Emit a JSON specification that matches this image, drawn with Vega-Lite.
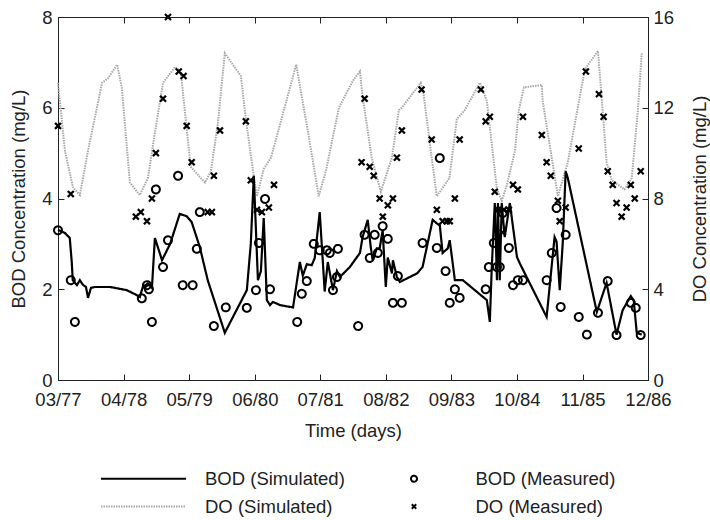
{
  "$schema": "https://vega.github.io/schema/vega-lite/v6.json",
  "width": 590,
  "height": 363,
  "autosize": {"type": "none"},
  "padding": {"left": 58, "top": 17, "right": 62, "bottom": 140},
  "config": {
    "font": "Liberation Sans",
    "view": {"stroke": "#222", "strokeWidth": 1},
    "axis": {
      "labelFont": "Liberation Sans", "labelFontSize": 18.5, "labelColor": "#222", "labelOverlap": false, "labelFlush": false,
      "titleFont": "Liberation Sans", "titleFontSize": 18.5, "titleFontWeight": "normal", "titleColor": "#222",
      "domainColor": "#222", "tickColor": "#222", "tickSize": -6, "grid": false
    },
    "legend": {
      "orient": "none", "legendX": 74.5, "legendY": 450.5, "columns": 2, "direction": "horizontal", "padding": 0,
      "symbolSize": 400, "symbolStrokeWidth": 2, "symbolFillColor": "transparent", "labelFont": "Liberation Sans", "labelFontSize": 18.5,
      "labelColor": "#222", "labelOffset": 50.5, "columnPadding": 57.5, "rowPadding": 7
    }
  },
  "datasets": {
    "bod_sim": [
      {"date":"1977-03-01","value":3.31},{"date":"1977-04-12","value":3.24},{"date":"1977-05-11","value":3.13},{"date":"1977-05-23","value":2.6},{"date":"1977-05-29","value":2.2},{"date":"1977-06-23","value":2.09},{"date":"1977-07-11","value":2.2},{"date":"1977-07-29","value":2.1},{"date":"1977-08-17","value":2.05},{"date":"1977-08-29","value":1.81},{"date":"1977-09-16","value":2.03},{"date":"1977-10-10","value":2.05},{"date":"1978-01-09","value":2.05},{"date":"1978-04-20","value":1.98},{"date":"1978-06-20","value":1.87},{"date":"1978-07-08","value":1.83},{"date":"1978-07-26","value":2.05},{"date":"1978-08-26","value":2.13},{"date":"1978-09-19","value":2.03},{"date":"1978-10-07","value":3.13},{"date":"1978-11-19","value":2.64},{"date":"1979-01-07","value":3.0},{"date":"1979-03-06","value":3.66},{"date":"1979-04-17","value":3.61},{"date":"1979-05-17","value":3.48},{"date":"1979-07-05","value":2.93},{"date":"1979-08-22","value":2.2},{"date":"1979-12-03","value":1.04},{"date":"1980-04-14","value":1.98},{"date":"1980-05-08","value":3.0},{"date":"1980-05-26","value":4.5},{"date":"1980-06-20","value":2.2},{"date":"1980-07-08","value":2.4},{"date":"1980-07-25","value":3.57},{"date":"1980-08-13","value":1.76},{"date":"1980-09-01","value":1.65},{"date":"1980-09-19","value":1.72},{"date":"1980-11-01","value":1.65},{"date":"1981-01-01","value":1.61},{"date":"1981-01-18","value":1.6},{"date":"1981-02-28","value":2.6},{"date":"1981-03-18","value":2.3},{"date":"1981-04-11","value":2.55},{"date":"1981-05-11","value":2.53},{"date":"1981-05-29","value":2.69},{"date":"1981-06-28","value":3.7},{"date":"1981-07-17","value":2.6},{"date":"1981-07-28","value":1.95},{"date":"1981-08-16","value":2.6},{"date":"1981-09-16","value":1.98},{"date":"1981-10-10","value":2.4},{"date":"1981-10-28","value":2.27},{"date":"1981-12-27","value":2.49},{"date":"1982-02-26","value":2.8},{"date":"1982-03-14","value":3.15},{"date":"1982-04-14","value":3.53},{"date":"1982-05-02","value":2.93},{"date":"1982-05-14","value":2.64},{"date":"1982-06-08","value":2.9},{"date":"1982-06-25","value":2.9},{"date":"1982-07-13","value":3.3},{"date":"1982-08-01","value":2.05},{"date":"1982-08-13","value":2.7},{"date":"1982-09-07","value":2.35},{"date":"1982-09-13","value":2.64},{"date":"1982-10-07","value":2.27},{"date":"1982-10-25","value":2.16},{"date":"1983-02-06","value":2.35},{"date":"1983-03-11","value":2.49},{"date":"1983-05-11","value":3.53},{"date":"1983-06-05","value":3.45},{"date":"1983-06-23","value":3.41},{"date":"1983-07-10","value":2.8},{"date":"1983-08-10","value":2.9},{"date":"1983-08-22","value":3.08},{"date":"1983-09-22","value":2.2},{"date":"1983-11-09","value":2.2},{"date":"1984-04-02","value":1.76},{"date":"1984-04-20","value":1.28},{"date":"1984-05-02","value":2.5},{"date":"1984-05-20","value":3.9},{"date":"1984-06-02","value":2.2},{"date":"1984-06-08","value":3.9},{"date":"1984-06-19","value":2.2},{"date":"1984-07-01","value":3.9},{"date":"1984-07-19","value":3.15},{"date":"1984-08-19","value":3.9},{"date":"1984-10-01","value":2.71},{"date":"1984-10-18","value":2.57},{"date":"1985-03-29","value":1.39},{"date":"1985-05-16","value":3.15},{"date":"1985-05-28","value":3.05},{"date":"1985-06-16","value":1.98},{"date":"1985-07-04","value":3.0},{"date":"1985-07-22","value":4.6},{"date":"1985-08-04","value":4.45},{"date":"1986-01-26","value":1.5},{"date":"1986-03-26","value":2.14},{"date":"1986-05-25","value":1.0},{"date":"1986-07-01","value":1.54},{"date":"1986-08-19","value":1.85},{"date":"1986-09-06","value":1.75},{"date":"1986-09-24","value":1.04},{"date":"1986-10-24","value":1.0}
    ],
    "bod_meas": [
      {"date":"1977-03-01","value":3.3},{"date":"1977-05-17","value":2.2},{"date":"1977-06-11","value":1.28},{"date":"1978-07-20","value":1.8},{"date":"1978-08-20","value":2.09},{"date":"1978-09-01","value":2.0},{"date":"1978-09-19","value":1.28},{"date":"1978-10-13","value":4.2},{"date":"1978-11-25","value":2.49},{"date":"1978-12-25","value":3.08},{"date":"1979-02-24","value":4.5},{"date":"1979-03-24","value":2.09},{"date":"1979-05-23","value":2.09},{"date":"1979-06-17","value":2.89},{"date":"1979-07-05","value":3.7},{"date":"1979-09-28","value":1.19},{"date":"1979-12-09","value":1.6},{"date":"1980-04-14","value":1.59},{"date":"1980-06-08","value":1.98},{"date":"1980-06-26","value":3.02},{"date":"1980-08-02","value":3.99},{"date":"1980-09-01","value":2.0},{"date":"1981-02-12","value":1.28},{"date":"1981-03-12","value":1.9},{"date":"1981-04-11","value":2.18},{"date":"1981-05-23","value":3.0},{"date":"1981-06-28","value":2.86},{"date":"1981-08-10","value":2.86},{"date":"1981-08-28","value":2.8},{"date":"1981-09-16","value":1.98},{"date":"1981-10-10","value":2.27},{"date":"1981-10-16","value":2.89},{"date":"1982-02-15","value":1.19},{"date":"1982-03-26","value":3.2},{"date":"1982-04-26","value":2.69},{"date":"1982-05-26","value":3.2},{"date":"1982-06-14","value":2.8},{"date":"1982-07-13","value":3.39},{"date":"1982-08-13","value":3.11},{"date":"1982-09-13","value":1.7},{"date":"1982-10-13","value":2.29},{"date":"1982-11-06","value":1.7},{"date":"1983-03-11","value":3.02},{"date":"1983-06-05","value":2.91},{"date":"1983-06-23","value":4.89},{"date":"1983-07-28","value":2.4},{"date":"1983-08-22","value":1.7},{"date":"1983-09-22","value":2.0},{"date":"1983-10-21","value":1.81},{"date":"1984-03-26","value":2.0},{"date":"1984-04-14","value":2.49},{"date":"1984-05-14","value":3.02},{"date":"1984-06-02","value":2.49},{"date":"1984-06-19","value":2.49},{"date":"1984-07-07","value":3.68},{"date":"1984-08-13","value":2.91},{"date":"1984-09-07","value":2.09},{"date":"1984-10-06","value":2.2},{"date":"1984-11-06","value":2.2},{"date":"1985-03-29","value":2.2},{"date":"1985-04-29","value":2.8},{"date":"1985-05-28","value":3.79},{"date":"1985-06-22","value":1.61},{"date":"1985-07-22","value":3.2},{"date":"1985-10-09","value":1.39},{"date":"1985-11-27","value":1.0},{"date":"1986-02-02","value":1.48},{"date":"1986-04-02","value":2.18},{"date":"1986-05-25","value":0.99},{"date":"1986-08-19","value":1.7},{"date":"1986-09-18","value":1.59},{"date":"1986-10-18","value":0.99}
    ],
    "do_sim": [
      {"date":"1977-03-01","value":13.1},{"date":"1977-04-12","value":10.1},{"date":"1977-05-30","value":8.5},{"date":"1977-07-11","value":8.15},{"date":"1977-08-29","value":10.1},{"date":"1977-11-22","value":13.1},{"date":"1977-12-28","value":13.3},{"date":"1978-02-21","value":13.9},{"date":"1978-03-21","value":12.9},{"date":"1978-05-09","value":8.7},{"date":"1978-07-08","value":8.15},{"date":"1978-08-26","value":8.9},{"date":"1978-10-07","value":10.9},{"date":"1978-11-25","value":13.1},{"date":"1979-02-06","value":13.8},{"date":"1979-03-12","value":13.6},{"date":"1979-04-11","value":11.5},{"date":"1979-05-11","value":9.4},{"date":"1979-08-05","value":8.7},{"date":"1979-09-10","value":9.2},{"date":"1979-10-22","value":11.3},{"date":"1979-12-03","value":14.4},{"date":"1980-03-09","value":13.4},{"date":"1980-04-08","value":11.5},{"date":"1980-05-20","value":9.3},{"date":"1980-06-14","value":8.1},{"date":"1980-07-25","value":9.3},{"date":"1980-09-07","value":9.8},{"date":"1981-02-06","value":13.9},{"date":"1981-04-17","value":11.0},{"date":"1981-06-22","value":8.1},{"date":"1981-08-04","value":9.2},{"date":"1981-10-22","value":12.0},{"date":"1982-01-15","value":13.2},{"date":"1982-02-26","value":13.6},{"date":"1982-03-14","value":12.5},{"date":"1982-05-08","value":9.8},{"date":"1982-07-02","value":8.3},{"date":"1982-09-07","value":9.8},{"date":"1982-10-19","value":11.9},{"date":"1982-11-06","value":12.0},{"date":"1983-02-28","value":13.1},{"date":"1983-03-17","value":12.6},{"date":"1983-05-05","value":9.8},{"date":"1983-06-05","value":8.1},{"date":"1983-08-20","value":8.9},{"date":"1983-10-04","value":11.5},{"date":"1983-11-21","value":11.9},{"date":"1984-02-20","value":13.1},{"date":"1984-04-02","value":12.3},{"date":"1984-06-02","value":8.4},{"date":"1984-07-01","value":7.9},{"date":"1984-08-01","value":8.6},{"date":"1984-09-19","value":10.1},{"date":"1984-10-12","value":11.9},{"date":"1984-11-12","value":12.9},{"date":"1985-02-28","value":13.0},{"date":"1985-03-05","value":12.3},{"date":"1985-06-05","value":8.1},{"date":"1985-08-04","value":9.6},{"date":"1985-10-03","value":12.0},{"date":"1985-11-15","value":13.7},{"date":"1986-02-02","value":14.5},{"date":"1986-03-02","value":11.9},{"date":"1986-03-26","value":9.6},{"date":"1986-04-26","value":8.8},{"date":"1986-07-13","value":8.4},{"date":"1986-08-25","value":8.9},{"date":"1986-10-01","value":11.9},{"date":"1986-10-24","value":14.4}
    ],
    "do_meas": [
      {"date":"1977-03-01","value":11.2},{"date":"1977-05-17","value":8.2},{"date":"1978-06-14","value":7.2},{"date":"1978-07-14","value":7.4},{"date":"1978-08-20","value":7.0},{"date":"1978-09-19","value":8.0},{"date":"1978-10-13","value":10.0},{"date":"1978-11-25","value":12.4},{"date":"1978-12-25","value":16.0},{"date":"1979-02-28","value":13.6},{"date":"1979-03-29","value":13.4},{"date":"1979-04-17","value":11.2},{"date":"1979-05-17","value":9.6},{"date":"1979-08-22","value":7.4},{"date":"1979-09-16","value":7.4},{"date":"1979-09-28","value":9.0},{"date":"1979-11-04","value":11.0},{"date":"1980-04-08","value":11.4},{"date":"1980-05-08","value":8.8},{"date":"1980-06-14","value":7.5},{"date":"1980-07-14","value":7.4},{"date":"1980-08-25","value":7.6},{"date":"1980-09-25","value":8.6},{"date":"1982-03-08","value":9.6},{"date":"1982-03-26","value":12.4},{"date":"1982-04-26","value":9.4},{"date":"1982-05-20","value":9.0},{"date":"1982-06-25","value":8.0},{"date":"1982-07-14","value":7.2},{"date":"1982-08-13","value":7.7},{"date":"1982-09-13","value":8.0},{"date":"1982-10-07","value":9.8},{"date":"1982-11-06","value":11.0},{"date":"1983-03-05","value":12.8},{"date":"1983-05-05","value":10.6},{"date":"1983-06-05","value":7.5},{"date":"1983-07-10","value":7.0},{"date":"1983-08-04","value":7.0},{"date":"1983-08-22","value":7.0},{"date":"1983-09-22","value":8.0},{"date":"1983-10-21","value":10.6},{"date":"1984-02-26","value":12.8},{"date":"1984-03-26","value":11.4},{"date":"1984-04-20","value":11.6},{"date":"1984-05-20","value":8.3},{"date":"1984-06-08","value":7.5},{"date":"1984-07-07","value":6.5},{"date":"1984-07-13","value":7.5},{"date":"1984-08-13","value":7.5},{"date":"1984-09-07","value":8.6},{"date":"1984-10-06","value":8.4},{"date":"1984-11-06","value":11.6},{"date":"1985-02-28","value":10.8},{"date":"1985-03-29","value":9.6},{"date":"1985-04-23","value":9.0},{"date":"1985-06-05","value":7.9},{"date":"1985-06-16","value":7.0},{"date":"1985-07-22","value":7.6},{"date":"1985-10-09","value":10.2},{"date":"1985-11-21","value":13.6},{"date":"1986-02-08","value":12.6},{"date":"1986-03-08","value":11.6},{"date":"1986-04-02","value":9.2},{"date":"1986-05-02","value":8.6},{"date":"1986-05-25","value":7.8},{"date":"1986-06-25","value":7.2},{"date":"1986-07-25","value":7.6},{"date":"1986-08-19","value":8.6},{"date":"1986-09-12","value":8.0},{"date":"1986-10-18","value":9.2}
    ]
  },
  "layer": [
    {
      "layer": [
        {
          "data": {"name": "do_sim"},
          "mark": {"type": "line", "strokeWidth": 2},
          "encoding": {
            "x": {"field": "date", "type": "temporal", "scale": {"type": "utc", "domain": [{"year": 1977, "month": 3, "date": 1, "utc": true}, {"year": 1986, "month": 12, "date": 1, "utc": true}]}, "axis": {"orient": "top", "labels": false, "title": null, "domain": false, "values": [{"year":1977,"month":3,"date":1,"utc":true},{"year":1978,"month":4,"date":1,"utc":true},{"year":1979,"month":5,"date":1,"utc":true},{"year":1980,"month":6,"date":1,"utc":true},{"year":1981,"month":7,"date":1,"utc":true},{"year":1982,"month":8,"date":1,"utc":true},{"year":1983,"month":9,"date":1,"utc":true},{"year":1984,"month":10,"date":1,"utc":true},{"year":1985,"month":11,"date":1,"utc":true},{"year":1986,"month":12,"date":1,"utc":true}]}},
            "y": {"field": "value", "type": "quantitative", "scale": {"domain": [0, 16]}, "axis": {"orient": "right", "values": [0, 4, 8, 12, 16], "labelPadding": 11, "title": "DO Concentration (mg/L)", "titleAngle": 270, "titlePadding": 36}},
            "color": {"datum": "DO (Simulated)", "title": null, "scale": {"domain": ["BOD (Simulated)", "BOD (Measured)", "DO (Simulated)", "DO (Measured)"], "range": ["#000000", "#000000", "#a8a8a8", "#000000"]}},
            "strokeDash": {"datum": "DO (Simulated)", "title": null, "scale": {"domain": ["BOD (Simulated)", "BOD (Measured)", "DO (Simulated)", "DO (Measured)"], "range": [[1, 0], [1, 0], [1.5, 1], [1, 0]]}}
          }
        },
        {
          "data": {"name": "do_meas"},
          "mark": {"type": "point", "filled": false, "size": 740, "strokeWidth": 2.2, "opacity": 1},
          "encoding": {
            "x": {"field": "date", "type": "temporal"},
            "y": {"field": "value", "type": "quantitative"},
            "color": {"datum": "DO (Measured)", "title": null, "scale": {"domain": ["BOD (Simulated)", "BOD (Measured)", "DO (Simulated)", "DO (Measured)"], "range": ["#000000", "#000000", "#a8a8a8", "#000000"]}},
            "shape": {"datum": "DO (Measured)", "title": null, "scale": {"domain": ["BOD (Simulated)", "BOD (Measured)", "DO (Simulated)", "DO (Measured)"], "range": ["M-4.25,0L4.25,0", "M-0.3,0A0.3,0.3,0,1,1,0.3,0A0.3,0.3,0,1,1,-0.3,0Z", "M-4.25,0L4.25,0", "M-0.22,-0.22L0.22,0.22M0.22,-0.22L-0.22,0.22"]}},
            "strokeDash": {"datum": "DO (Measured)", "title": null, "scale": {"domain": ["BOD (Simulated)", "BOD (Measured)", "DO (Simulated)", "DO (Measured)"], "range": [[1, 0], [1, 0], [1.5, 1], [1, 0]]}}
          }
        }
      ]
    },
    {
      "layer": [
        {
          "data": {"name": "bod_sim"},
          "mark": {"type": "line", "strokeWidth": 2.2},
          "encoding": {
            "x": {"field": "date", "type": "temporal", "axis": {"orient": "bottom", "format": "%m/%y", "labelPadding": 16, "title": "Time (days)", "titlePadding": 13, "values": [{"year":1977,"month":3,"date":1,"utc":true},{"year":1978,"month":4,"date":1,"utc":true},{"year":1979,"month":5,"date":1,"utc":true},{"year":1980,"month":6,"date":1,"utc":true},{"year":1981,"month":7,"date":1,"utc":true},{"year":1982,"month":8,"date":1,"utc":true},{"year":1983,"month":9,"date":1,"utc":true},{"year":1984,"month":10,"date":1,"utc":true},{"year":1985,"month":11,"date":1,"utc":true},{"year":1986,"month":12,"date":1,"utc":true}]}},
            "y": {"field": "value", "type": "quantitative", "scale": {"domain": [0, 8]}, "axis": {"orient": "left", "values": [0, 2, 4, 6, 8], "labelPadding": 12, "title": "BOD Concentration (mg/L)", "titlePadding": 13}},
            "color": {"datum": "BOD (Simulated)", "title": null, "scale": {"domain": ["BOD (Simulated)", "BOD (Measured)", "DO (Simulated)", "DO (Measured)"], "range": ["#000000", "#000000", "#a8a8a8", "#000000"]}},
            "strokeDash": {"datum": "BOD (Simulated)", "title": null, "scale": {"domain": ["BOD (Simulated)", "BOD (Measured)", "DO (Simulated)", "DO (Measured)"], "range": [[1, 0], [1, 0], [1.5, 1], [1, 0]]}}
          }
        },
        {
          "data": {"name": "bod_meas"},
          "mark": {"type": "point", "filled": false, "size": 700, "strokeWidth": 2, "opacity": 1},
          "encoding": {
            "x": {"field": "date", "type": "temporal"},
            "y": {"field": "value", "type": "quantitative"},
            "color": {"datum": "BOD (Measured)", "title": null, "scale": {"domain": ["BOD (Simulated)", "BOD (Measured)", "DO (Simulated)", "DO (Measured)"], "range": ["#000000", "#000000", "#a8a8a8", "#000000"]}},
            "shape": {"datum": "BOD (Measured)", "title": null, "scale": {"domain": ["BOD (Simulated)", "BOD (Measured)", "DO (Simulated)", "DO (Measured)"], "range": ["M-4.25,0L4.25,0", "M-0.3,0A0.3,0.3,0,1,1,0.3,0A0.3,0.3,0,1,1,-0.3,0Z", "M-4.25,0L4.25,0", "M-0.22,-0.22L0.22,0.22M0.22,-0.22L-0.22,0.22"]}},
            "strokeDash": {"datum": "BOD (Measured)", "title": null, "scale": {"domain": ["BOD (Simulated)", "BOD (Measured)", "DO (Simulated)", "DO (Measured)"], "range": [[1, 0], [1, 0], [1.5, 1], [1, 0]]}}
          }
        }
      ]
    }
  ],
  "resolve": {"scale": {"y": "independent"}, "axis": {"x": "independent"}}
}
